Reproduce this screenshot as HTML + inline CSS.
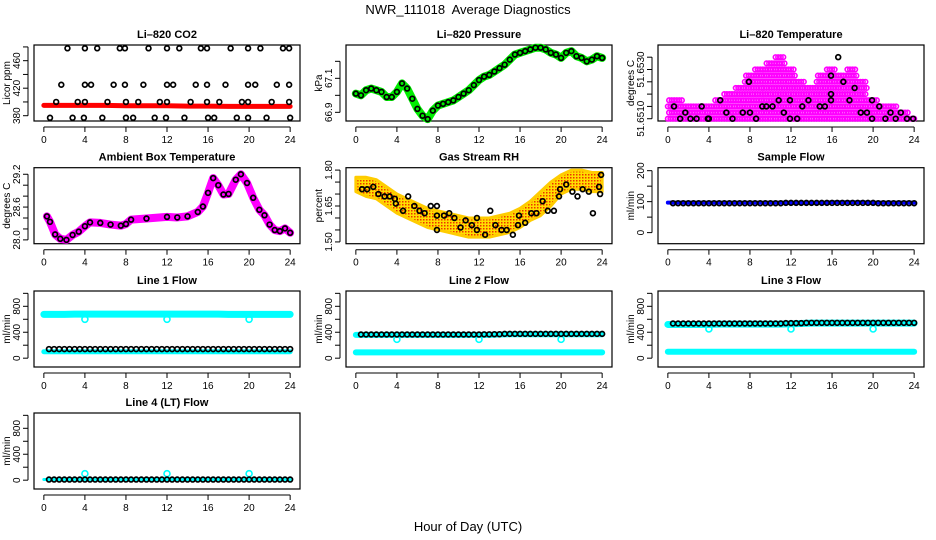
<!DOCTYPE html>
<html><head><meta charset="utf-8">
<style>
html,body{margin:0;padding:0;background:#fff;}
svg{display:block;font-family:"Liberation Sans",Arial,sans-serif;}
.t{font-size:11px;font-weight:bold;text-anchor:middle;}
.tk{font-size:10px;text-anchor:middle;}
</style></head>
<body>
<svg id="chart" width="936" height="540" viewBox="0 0 936 540">
<rect width="936" height="540" fill="#fff"/>
<defs>
<pattern id="rhpat" width="3" height="3" patternUnits="userSpaceOnUse">
<rect width="3" height="3" fill="#ffdd00"/><rect x="0" y="0" width="1.5" height="1.5" fill="#ee3300"/>
</pattern>
</defs>
<text x="468" y="14" font-size="13" text-anchor="middle">NWR_111018&#160; Average Diagnostics</text>
<text x="468" y="531" font-size="13" text-anchor="middle">Hour of Day (UTC)</text>
</svg>
<script>
// ---- data ----
const hourTicks = [0,4,8,12,16,20,24];
const co2Hours = [0,2,4,6,8,10,12,14,16,18,20,22,24];
const co2Red = [395,395,395,395,394.5,394.5,394.5,394,394,393.5,393.5,393.5,393.5];
const co2BlackHours = [2.3,4,5.2,7.4,7.9,10.2,12,13.2,15.3,15.9,18.2,19.9,21.1,23.3,23.9,
 1.7,4,4.6,6.8,7.9,9.7,12,12.6,14.8,15.9,17.7,19.9,20.6,22.7,23.9,
 1.2,3.3,4,6.2,8,9.2,11.3,12,14.3,15.9,17.1,19.3,19.9,22.2,23.9,
 0.6,2.8,3.9,5.7,8,8.7,10.8,11.9,13.7,16,16.6,18.8,19.9,21.7,24];
const co2BlackVals = [478,478,478,478,478,478,478,478,478,478,478,478,478,478,478,
 425,425,425,425,425,425,425,425,425,425,425,425,425,425,425,
 400,400,400,400,400,400,400,400,400,400,400,400,400,400,400,
 377,377,377,377,377,377,377,377,377,377,377,377,377,377,377];
const presHours = [0,0.5,1,1.5,2,2.5,3,3.5,4,4.5,5,5.5,6,6.5,7,7.5,8,8.5,9,9.5,10,10.5,11,11.5,12,12.5,13,13.5,14,14.5,15,15.5,16,16.5,17,17.5,18,18.5,19,19.5,20,20.5,21,21.5,22,22.5,23,23.5,24];
const presVals = [67.01,67.0,67.03,67.04,67.03,67.02,66.99,66.99,67.02,67.07,67.04,66.98,66.92,66.88,66.86,66.91,66.94,66.95,66.96,66.97,66.99,67.01,67.03,67.06,67.09,67.11,67.12,67.14,67.16,67.18,67.21,67.24,67.25,67.26,67.27,67.28,67.28,67.27,67.25,67.24,67.22,67.25,67.26,67.23,67.22,67.2,67.21,67.23,67.22];
const tempEnvHours = [0,1,2,3,4,5,6,7,8,9,10,11,12,13,14,15,16,17,18,19,20,21,22,23,24];
const tempEnvLevel = [3,3,2,2,2,3,4,5,7,8,9,10,8,6,5,7,8,7,8,6,3,2,2,1,0];
const tempBlackHours = [0.6,1.2,1.7,2.2,2.8,3.3,3.9,4,5.1,5.7,6.3,7.3,7.9,8,8.6,9.2,9.6,10.2,10.8,11.3,11.9,11.9,12.6,13.1,13.7,14.8,15.3,15.9,15.9,15.9,16.6,17.1,17.7,18.2,18.8,19.4,19.9,19.9,20.6,21.2,21.7,22.2,22.7,23.3,23.9];
const tempBlackLevel = [2,0,1,0,0,2,0,0,3,1,0,1,6,1,0,2,2,2,3,1,3,0,0,2,3,2,2,7,4,3,10,6,3,5,1,1,3,0,2,0,1,0,1,0,0];
const ambHours = [0.3,0.6,1.1,1.6,2.2,2.8,3.4,4,4.5,5.5,6.5,7.5,8,8.5,10,12,13,14,15,15.5,16,16.5,17,17.5,18,18.7,19.2,19.8,20.4,21,21.5,22,22.5,23,23.5,24];
const ambVals = [28.43,28.33,28.1,28.02,28.0,28.09,28.15,28.25,28.32,28.31,28.28,28.26,28.29,28.37,28.39,28.42,28.41,28.43,28.51,28.61,28.86,29.13,29.0,28.83,28.84,29.1,29.2,29.04,28.77,28.55,28.45,28.28,28.18,28.16,28.21,28.13];
const rhHours = [0,1,2,3,4,5,6,7,8,9,10,11,12,13,14,15,16,17,18,19,20,21,22,23,24];
const rhCenter = [1.74,1.73,1.72,1.69,1.66,1.64,1.62,1.60,1.59,1.58,1.57,1.56,1.56,1.56,1.57,1.58,1.60,1.63,1.66,1.70,1.74,1.76,1.76,1.75,1.75];
const rhSpread = [0.03,0.04,0.04,0.04,0.04,0.04,0.04,0.04,0.04,0.04,0.04,0.04,0.04,0.04,0.04,0.04,0.04,0.04,0.05,0.05,0.04,0.04,0.04,0.04,0.04];
const rhBlackHours = [0.6,1.1,1.7,2.2,2.8,3.3,3.8,3.9,4.6,5.1,5.7,6.2,6.7,7.3,7.9,7.9,7.9,8.6,9.1,9.6,10.2,10.7,11.3,11.8,11.8,12.6,13.1,13.6,14.2,14.7,15.3,15.8,15.9,16.5,17.1,17.6,18.2,18.7,19.3,19.8,19.9,20.5,21.1,21.6,22.1,22.7,23.1,23.7,23.9,23.8];
const rhBlackVals = [1.72,1.72,1.73,1.70,1.69,1.69,1.68,1.66,1.63,1.69,1.65,1.63,1.62,1.65,1.65,1.55,1.61,1.61,1.62,1.60,1.56,1.59,1.57,1.60,1.55,1.53,1.63,1.57,1.55,1.55,1.53,1.57,1.61,1.58,1.62,1.62,1.67,1.63,1.63,1.69,1.72,1.74,1.71,1.69,1.72,1.71,1.62,1.73,1.78,1.70];
const flowHours = [0,1,2,3,4,5,6,7,8,9,10,11,12,13,14,15,16,17,18,19,20,21,22,23,24];
const sampleBlue = [97,97,97,97,97,97,97,97,97,97,97,97,97,97,97,97,98,98,98,98,97,97,97,97,97];
const sampleBlack = [95,95,95,95,95,95,95,95,95,95,95,95,96,96,96,96,96,96,96,96,96,95,95,95,95];
const line1Upper = [675,675,675,680,680,680,680,680,680,680,680,680,680,680,680,680,680,680,675,675,675,675,675,675,675];
const line1Lower = [100,100,100,100,100,100,100,100,100,100,100,100,100,100,100,100,100,100,100,100,100,100,100,100,100];
const line1Black = [140,140,140,140,140,140,140,140,140,140,140,140,140,140,140,140,140,140,140,140,140,140,140,140,140];
const line2Upper = [360,360,360,360,360,360,360,360,360,360,360,360,360,360,365,370,370,370,370,370,370,370,370,370,370];
const line2Lower = [90,90,90,90,90,90,90,90,90,90,90,90,90,90,90,90,90,90,90,90,90,90,90,90,90];
const line2Black = [365,365,365,365,365,365,365,365,365,365,365,365,365,368,370,375,375,375,375,375,375,375,375,375,375];
const line3Upper = [520,520,520,520,520,525,525,525,525,525,525,525,530,535,540,540,540,540,540,540,540,540,540,540,540];
const line3Lower = [100,100,100,100,100,100,100,100,100,100,100,100,100,100,100,100,100,100,100,100,100,100,100,100,100];
const line3Black = [535,535,535,535,535,535,535,535,535,535,535,535,540,540,545,545,545,545,545,545,545,545,545,545,545];
const line4Upper = [10,10,10,10,10,10,10,10,10,10,10,10,10,10,10,10,10,10,10,10,10,10,10,10,10];
const line4Black = [10,10,10,10,10,10,10,10,10,10,10,10,10,10,10,10,10,10,10,10,10,10,10,10,10];
const dipHours = [4,12,20];
const line1Dips = [600,600,600];
const line2Dips = [290,290,290];
const line3Dips = [450,450,450];
const line4Dips = [100,100,100];

// ---- drawing ----
const svg = document.getElementById('chart');
const NS = 'http://www.w3.org/2000/svg';
const colX = [34,346,658], rowY = [45,167.7,291,413], PW = 266, PH = 76;
function mk(tag, attrs, parent){ const e=document.createElementNS(NS,tag); for(const k in attrs) e.setAttribute(k,attrs[k]); (parent||svg).appendChild(e); return e; }

function panel(c, r, name, title, ylab, ymin, ymax, ticks, labels){
  const g = mk('g',{});
  
  
  const L=colX[c], T=rowY[r], B=T+PH;
  const xs = h => L + (h+0.96)/25.92*PW;
  const ys = v => B - (v-ymin)/(ymax-ymin)*PH;
  const tt = mk('text',{x:L+PW/2,y:T-7,class:'t'},g); tt.textContent=title;
  
  
  const box = mk('rect',{x:L,y:T,width:PW,height:PH,fill:'none',stroke:'#000','stroke-width':1.2},g);
  
  
  const xa = mk('g',{},g);
  
  
  mk('line',{x1:xs(0),x2:xs(24),y1:B+6,y2:B+6,stroke:'#000'},xa);
  hourTicks.forEach(h=>{ mk('line',{x1:xs(h),x2:xs(h),y1:B+6,y2:B+11,stroke:'#000'},xa);
    const t=mk('text',{x:xs(h),y:B+22,class:'tk'},xa); t.textContent=h; });
  const ya = mk('g',{},g);
  
  
  mk('line',{x1:L-6,x2:L-6,y1:ys(ticks[0]),y2:ys(ticks[ticks.length-1]),stroke:'#000'},ya);
  ticks.forEach(v=>{ mk('line',{x1:L-11,x2:L-6,y1:ys(v),y2:ys(v),stroke:'#000'},ya); });
  labels.forEach(([v,s])=>{ const t=mk('text',{x:0,y:0,class:'tk',transform:`translate(${L-14},${ys(v)}) rotate(-90)`},ya); t.textContent=s; });
  const yt = mk('text',{x:0,y:0,'font-size':10,'text-anchor':'middle',transform:`translate(${L-24},${T+PH/2}) rotate(-90)`},g);
  yt.textContent=ylab;
  
  
  const d = mk('g',{},g);
  
  
  return {xs,ys,d};
}
function band(p, hours, vals, color, w){
  const pts = hours.map((h,i)=>p.xs(h)+','+p.ys(vals[i])).join(' ');
  const e = mk('polyline',{points:pts,fill:'none',stroke:color,'stroke-width':w,'stroke-linejoin':'round','stroke-linecap':'round'},p.d);
  
  
}
function circ(p, h, v, color, r, sw){
  const e = mk('circle',{cx:p.xs(h),cy:p.ys(v),r:r||2.4,fill:'none',stroke:color||'#000','stroke-width':sw||1.7},p.d);
  
  
}
function halfHourBlack(p, arr){
  for(let i=1;i<=48;i++){ const h=i*0.5; circ(p,h,arr[Math.round(h)]); }
}

// CO2
let p = panel(0,0,'co2-panel','Li–820 CO2','Licor ppm',372.3,482.8,[380,400,420,440,460,480],[[380,'380'],[420,'420'],[460,'460']]);
band(p,co2Hours,co2Red,'#ff0000',5);
co2BlackHours.forEach((h,i)=>circ(p,h,co2BlackVals[i]));

// Pressure
p = panel(1,0,'pressure-panel','Li–820 Pressure','kPa',66.849,67.296,[66.9,67.0,67.1,67.2],[[66.9,'66.9'],[67.1,'67.1']]);
band(p,presHours,presVals,'#00ee00',8);
presHours.forEach((h,i)=>circ(p,h,presVals[i]));

// Li-820 temperature (levels of 0.00025 above 51.6510)
p = panel(2,0,'li820-temperature-panel','Li–820 Temperature','degrees C',-0.37,11.98,[0,2,4,6,8,10],[[0,'51.6510'],[8,'51.6530']]);
tempEnvHours.forEach((h,i)=>{
  for(let j=0;j<=tempEnvLevel[i];j++){
    for(let k=-2;k<=1;k++){
      const hh = h + k*0.25 + (j%2)*0.12;
      if(hh<0||hh>24) continue;
      circ(p,hh,j,'#ff00ff',2.3,1.6);
    }
  }
});
tempBlackHours.forEach((h,i)=>circ(p,h,tempBlackLevel[i]));

// Ambient box temperature
p = panel(0,1,'ambient-temperature-panel','Ambient Box Temperature','degrees C',27.93,29.32,[28.0,28.2,28.4,28.6,28.8,29.0,29.2],[[28.0,'28.0'],[28.6,'28.6'],[29.2,'29.2']]);
band(p,ambHours,ambVals,'#ff00ff',8);
ambHours.forEach((h,i)=>circ(p,h,ambVals[i]));

// Gas stream RH
p = panel(1,1,'rh-panel','Gas Stream RH','percent',1.4926,1.81,[1.50,1.55,1.60,1.65,1.70,1.75,1.80],[[1.50,'1.50'],[1.65,'1.65'],[1.80,'1.80']]);
{
  const up = rhHours.map((h,i)=>p.xs(h)+','+p.ys(rhCenter[i]+rhSpread[i]));
  const dn = rhHours.map((h,i)=>p.xs(h)+','+p.ys(rhCenter[i]-rhSpread[i])).reverse();
  const e = mk('polygon',{points:up.concat(dn).join(' '),fill:'url(#rhpat)',stroke:'#ffcc00','stroke-width':3,'stroke-linejoin':'round'},p.d);
  
  
}
rhBlackHours.forEach((h,i)=>circ(p,h,rhBlackVals[i]));

// Sample flow
p = panel(2,1,'sample-flow-panel','Sample Flow','ml/min',-35.8,209.6,[0,50,100,150,200],[[0,'0'],[100,'100'],[200,'200']]);
band(p,flowHours,sampleBlue,'#0000ff',4);
halfHourBlack(p,sampleBlack);

const flowTicks=[0,200,400,600,800,1000], flowLabels=[[0,'0'],[400,'400'],[800,'800']];
// Line 1
p = panel(0,2,'line1-flow-panel','Line 1 Flow','ml/min',-136,1036,flowTicks,flowLabels);
band(p,flowHours,line1Upper,'#00ffff',7);
band(p,flowHours,line1Lower,'#00ffff',5);
dipHours.forEach((h,i)=>circ(p,h,line1Dips[i],'#00ffff',3,1.6));
halfHourBlack(p,line1Black);
// Line 2
p = panel(1,2,'line2-flow-panel','Line 2 Flow','ml/min',-136,1036,flowTicks,flowLabels);
band(p,flowHours,line2Upper,'#00ffff',6);
band(p,flowHours,line2Lower,'#00ffff',6);
dipHours.forEach((h,i)=>circ(p,h,line2Dips[i],'#00ffff',3,1.6));
halfHourBlack(p,line2Black);
// Line 3
p = panel(2,2,'line3-flow-panel','Line 3 Flow','ml/min',-136,1036,flowTicks,flowLabels);
band(p,flowHours,line3Upper,'#00ffff',7);
band(p,flowHours,line3Lower,'#00ffff',6);
dipHours.forEach((h,i)=>circ(p,h,line3Dips[i],'#00ffff',3,1.6));
halfHourBlack(p,line3Black);
// Line 4
p = panel(0,3,'line4-flow-panel','Line 4 (LT) Flow','ml/min',-136,1036,flowTicks,flowLabels);
band(p,flowHours,line4Upper,'#00ffff',3);
dipHours.forEach((h,i)=>circ(p,h,line4Dips[i],'#00ffff',3,1.6));
halfHourBlack(p,line4Black);
</script>
</body></html>
